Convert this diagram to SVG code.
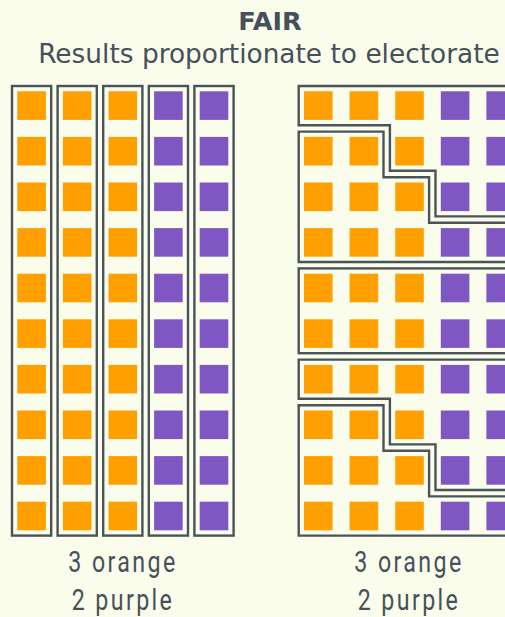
<svg xmlns="http://www.w3.org/2000/svg" width="505" height="617" viewBox="0 0 505 617">
<style>
.bg{fill:#fafdeb}
.o{fill:#ffa000}
.p{fill:#7e57c2}
.d{fill:none;stroke:#4a5359;stroke-width:2.4}
.t{fill:#46505a;text-anchor:middle}
.h{font-family:"DejaVu Sans",Roboto,sans-serif;font-size:25.6px;font-weight:bold}
.s{font-family:"DejaVu Sans",Roboto,sans-serif;font-size:26.4px}
.l{font-family:Roboto,"Liberation Sans",sans-serif;font-size:29px;letter-spacing:3px}
</style>
<defs>
<g id="row">
<rect class="o" x="0" y="0" width="28.6" height="28.6"/>
<rect class="o" x="45.6" y="0" width="28.6" height="28.6"/>
<rect class="o" x="91.2" y="0" width="28.6" height="28.6"/>
<rect class="p" x="136.8" y="0" width="28.6" height="28.6"/>
<rect class="p" x="182.4" y="0" width="28.6" height="28.6"/>
</g>
<g id="grid">
<use href="#row" y="0"/>
<use href="#row" y="45.6"/>
<use href="#row" y="91.2"/>
<use href="#row" y="136.8"/>
<use href="#row" y="182.4"/>
<use href="#row" y="228"/>
<use href="#row" y="273.6"/>
<use href="#row" y="319.2"/>
<use href="#row" y="364.8"/>
<use href="#row" y="410.4"/>
</g>
</defs>
<rect class="bg" x="0" y="0" width="505" height="617"/>
<g id="title">
<text class="t h" x="270" y="29.5">FAIR</text>
<text class="t s" x="269" y="63">Results proportionate to electorate</text>
</g>
<g id="left-voters"><use href="#grid" x="17.3" y="91.3"/></g>
<g id="right-voters"><use href="#grid" x="304" y="91.3"/></g>
<g id="left-districts">
<rect id="l1" class="d" x="12" y="86" width="39.2" height="449.6"/>
<rect id="l2" class="d" x="57.6" y="86" width="39.2" height="449.6"/>
<rect id="l3" class="d" x="103.2" y="86" width="39.2" height="449.6"/>
<rect id="l4" class="d" x="148.8" y="86" width="39.2" height="449.6"/>
<rect id="l5" class="d" x="194.4" y="86" width="39.2" height="449.6"/>
</g>
<g id="right-districts">
<path id="r1" class="d" d="M298.7 86H520.3V216.4H435.5V170.8H389.9V125.2H298.7Z"/>
<path id="r2" class="d" d="M298.7 131.6H383.5V177.2H429.1V222.8H520.3V262H298.7Z"/>
<rect id="r3" class="d" x="298.7" y="268.4" width="221.6" height="84.8"/>
<path id="r4" class="d" d="M298.7 359.6H520.3V490H435.5V444.4H389.9V398.8H298.7Z"/>
<path id="r5" class="d" d="M298.7 405.2H383.5V450.8H429.1V496.4H520.3V535.6H298.7Z"/>
</g>
<g id="left-label">
<text class="t l" transform="translate(123,572) scale(0.8,1)">3 orange</text>
<text class="t l" transform="translate(123,610) scale(0.8,1)">2 purple</text>
</g>
<g id="right-label">
<text class="t l" transform="translate(409,572) scale(0.8,1)">3 orange</text>
<text class="t l" transform="translate(409,610) scale(0.8,1)">2 purple</text>
</g>
</svg>
